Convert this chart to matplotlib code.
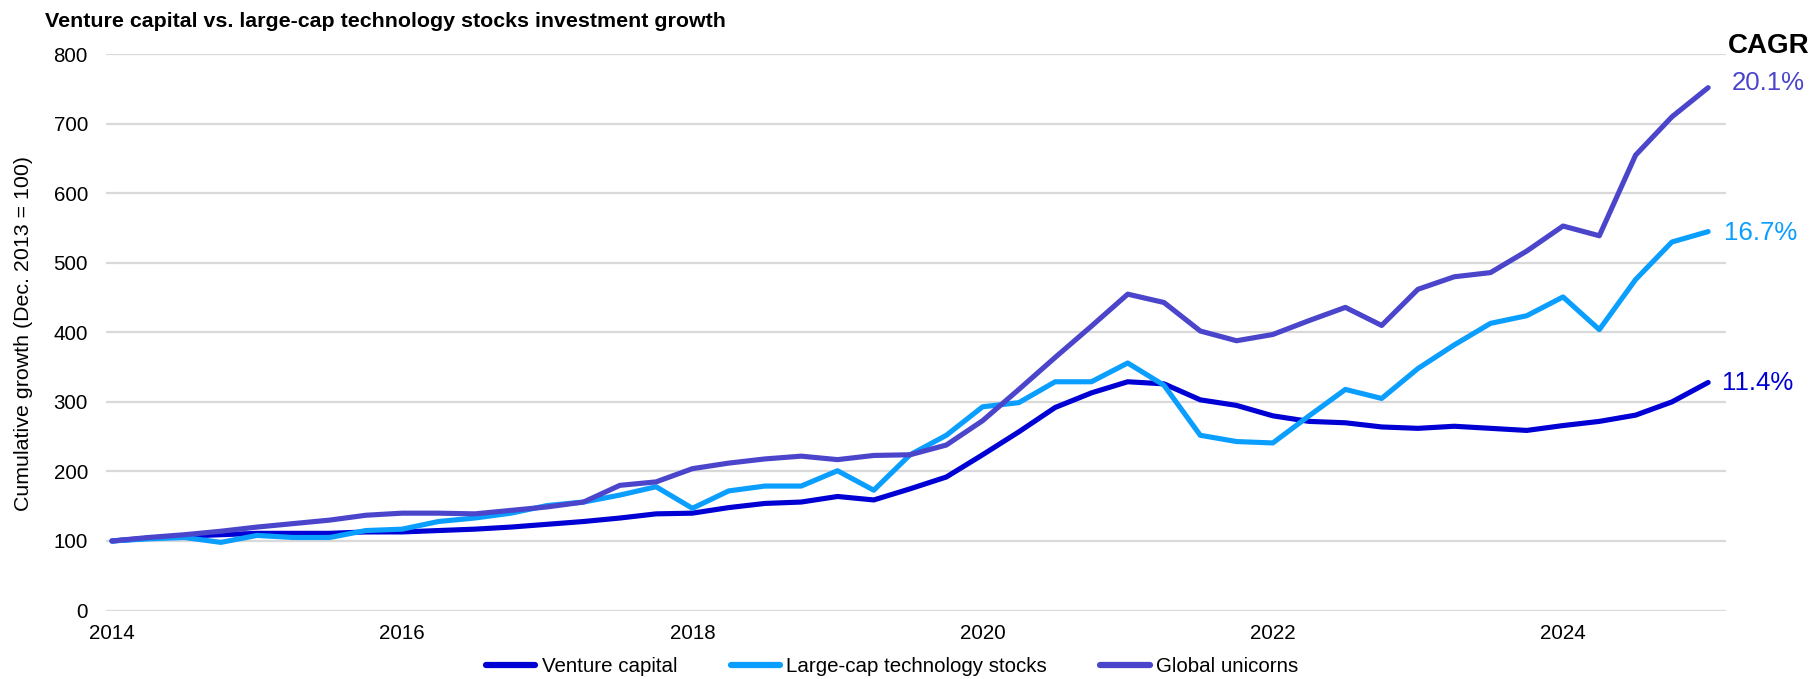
import matplotlib
matplotlib.use("Agg")
import matplotlib.pyplot as plt
import numpy as np

plt.rcParams["font.family"] = ["Liberation Sans", "DejaVu Sans"]

# Quarterly observations, Dec. 2013 = 100
quarters = [2014 + 0.25 * i for i in range(45)]

venture_capital = [
    100, 104, 107, 109, 111, 111, 111, 113, 113, 115,
    117, 120, 124, 128, 133, 139, 140, 148, 154, 156,
    164, 159, 175, 192, 224, 257, 292, 313, 329, 326,
    303, 295, 280, 272, 270, 264, 262, 265, 262, 259,
    266, 272, 281, 300, 328,
]
large_cap_tech = [
    100, 103, 105, 98, 108, 105, 105, 115, 117, 128,
    133, 140, 151, 156, 166, 178, 147, 172, 179, 179,
    201, 173, 224, 252, 293, 299, 329, 329, 356, 324,
    252, 243, 241, 280, 318, 305, 348, 382, 413, 424,
    451, 404, 476, 530, 545,
]
global_unicorns = [
    100, 105, 109, 114, 120, 125, 130, 137, 140, 140,
    139, 144, 149, 156, 180, 185, 204, 212, 218, 222,
    217, 223, 224, 238, 273, 318, 364, 409, 455, 443,
    402, 388, 397, 417, 436, 410, 462, 480, 486, 517,
    553, 539, 655, 710, 752,
]

series_names = ["Venture capital", "Large-cap technology stocks", "Global unicorns"]
cagr_labels = ["11.4%", "16.7%", "20.1%"]
colors = ["#0000D4", "#0A9EFF", "#4B45CC"]

title = "Venture capital vs. large-cap technology stocks investment growth"
y_label = "Cumulative growth (Dec. 2013 = 100)"
x_ticks = [2014, 2016, 2018, 2020, 2022, 2024]
y_ticks = list(range(0, 801, 100))

W, H = 1817, 679
fig = plt.figure(figsize=(W / 100, H / 100), dpi=100)
ax = fig.add_axes([106 / W, 1 - 610.5 / H, (1726 - 106) / W, (610.5 - 54.3) / H])

values = [venture_capital, large_cap_tech, global_unicorns]
lines = []
for vals, name, col in zip(values, series_names, colors):
    (ln,) = ax.plot(quarters, vals, color=col, lw=3.7, label=name,
                    solid_capstyle="round", solid_joinstyle="round",
                    clip_on=False, zorder=3)
    lines.append(ln)

ax.set_xlim(2013.959, 2025.123)
ax.set_ylim(0, 800)
ax.set_xticks(x_ticks)
ax.set_xticklabels([str(t) for t in x_ticks])
ax.set_yticks(y_ticks)
ax.grid(axis="y", color="#D9D9D9", lw=1.6, zorder=0)
ax.grid(axis="x", visible=False)
for s in ax.spines.values():
    s.set_visible(False)
ax.tick_params(axis="both", length=0, labelsize=14.8, colors="#000000")
ax.tick_params(axis="y", pad=13)
ax.tick_params(axis="x", pad=10)

# End-of-line CAGR labels
offsets = [(10.0, -5.5), (11.7, -6.1), (16.8, -1.8)]
for vals, txt, col, (dx, dy) in zip(values, cagr_labels, colors, offsets):
    ax.annotate(txt, xy=(quarters[-1], vals[-1]), xytext=(dx, dy),
                textcoords="offset points", ha="left", va="baseline",
                fontsize=18.6, color=col, annotation_clip=False)

fig.text(1728 / W, 1 - 53.3 / H, "CAGR", fontsize=20, fontweight="bold",
         ha="left", va="baseline")

fig.text(45 / W, 1 - 27.3 / H, title, fontsize=15.4, fontweight="bold",
         ha="left", va="baseline")
fig.text(24 / W, 1 - 333.5 / H, y_label, fontsize=15.4, rotation=90,
         ha="center", va="center")

leg = fig.legend(handles=lines, labels=series_names, loc="center",
                 bbox_to_anchor=(892 / W, 1 - 667 / H), ncol=3, frameon=False,
                 fontsize=14.8, handlelength=2.4, handletextpad=0.3,
                 columnspacing=2.6)
for h in leg.legend_handles:
    h.set_solid_capstyle("round")
    h.set_linewidth(4.5)

fig.savefig("out.png", dpi=100)
